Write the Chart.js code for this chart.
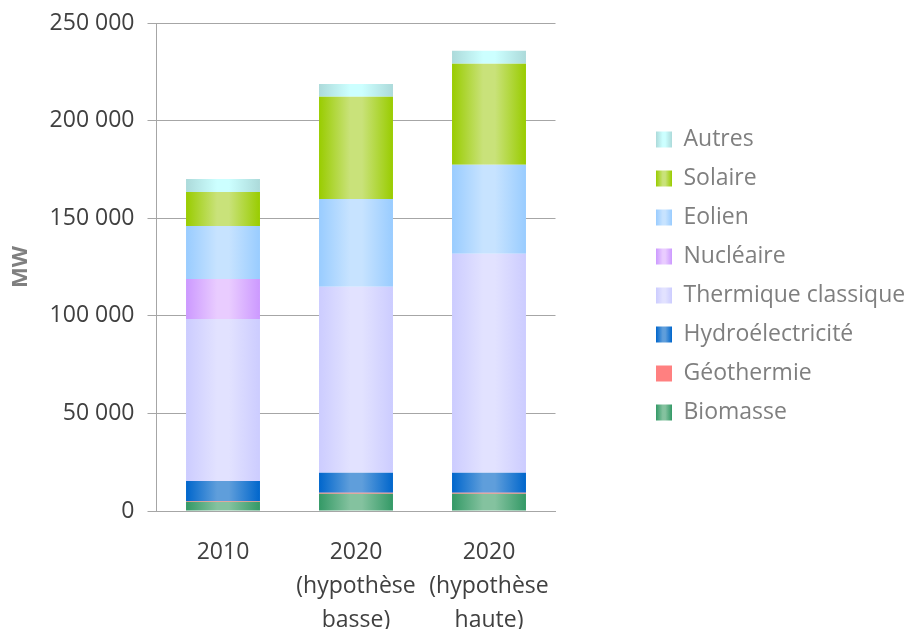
<!DOCTYPE html>
<html>
<head>
<meta charset="utf-8">
<script src="https://cdn.jsdelivr.net/npm/chart.js@4/dist/chart.umd.min.js"></script>
<style>
  body { margin: 0; background: #fff; }
</style>
</head>
<body>
<canvas id="mw-chart" width="909" height="629"></canvas>
<script>
// Puissance installée (MW) par filière
const categories = ['2010', ['2020', '(hypothèse', 'basse)'], ['2020', '(hypothèse', 'haute)']];

const biomasse   = [4700, 8900, 8900];
const geothermie = [400, 400, 400];
const hydro      = [10300, 10300, 10300];
const thermique  = [83000, 95300, 112200];
const nucleaire  = [20500, 0, 0];
const eolien     = [27100, 45000, 45600];
const solaire    = [17400, 52300, 51700];
const autres     = [6700, 6600, 6700];

const yTicks = [0, 50000, 100000, 150000, 200000, 250000];

const barShare = 0.556;
const legendPadding = 16;
const legendBox = 16;

// dégradé horizontal : bords foncés, centre clair
function fillGradient(ctx2d, x0, x1, dark, light) {
    const g = ctx2d.createLinearGradient(x0, 0, x1, 0);
    g.addColorStop(0, dark);
    g.addColorStop(0.42, light);
    g.addColorStop(0.58, light);
    g.addColorStop(1, dark);
    return g;
}

function barFill(dark, light) {
    return function(context) {
        const chart = context.chart;
        const xs = chart.scales.x;
        if (context.type !== 'data' || !xs || !Number.isFinite(xs.width)) return dark;
        const cx = xs.getPixelForValue(context.dataIndex);
        const half = xs.width / categories.length * barShare / 2;
        return fillGradient(chart.ctx, cx - half, cx + half, dark, light);
    };
}

function serie(label, data, dark, light) {
    return {
        label: label,
        data: data,
        backgroundColor: barFill(dark, light),
        dark: dark,
        light: light,
        borderWidth: 0
    };
}

function formatMW(v) {
    return String(v).replace(/\B(?=(\d{3})+(?!\d))/g, ' ');
}

const ctx = document.getElementById('mw-chart').getContext('2d');

new Chart(ctx, {
    type: 'bar',
    data: {
        labels: categories,
        datasets: [
            serie('Biomasse', biomasse, '#339966', '#84c29f'),
            serie('Géothermie', geothermie, '#ff8080', '#ff8080'),
            serie('Hydroélectricité', hydro, '#0066cc', '#5f9edb'),
            serie('Thermique classique', thermique, '#ccccff', '#e2e2ff'),
            serie('Nucléaire', nucleaire, '#cc99ff', '#e9ccff'),
            serie('Eolien', eolien, '#99ccff', '#c7e3ff'),
            serie('Solaire', solaire, '#99cc00', '#c9e27a'),
            serie('Autres', autres, '#acdada', '#ccffff')
        ]
    },
    options: {
        responsive: false,
        animation: false,
        layout: {
            padding: { left: 4, top: 23, right: 0, bottom: 0 }
        },
        datasets: {
            bar: { barPercentage: 1, categoryPercentage: barShare }
        },
        plugins: {
            tooltip: { enabled: false },
            legend: {
                position: 'right',
                reverse: true,
                fullSize: false,
                maxWidth: 269,
                title: { display: true, text: '', padding: 0, font: { size: 10, lineHeight: 1.8 } },
                labels: {
                    boxWidth: legendBox,
                    boxHeight: legendBox,
                    padding: legendPadding,
                    color: '#7f7f7f',
                    font: { family: 'Open Sans', size: 23 },
                    generateLabels: function(chart) {
                        const items = Chart.defaults.plugins.legend.labels.generateLabels(chart);
                        const lg = chart.legend;
                        items.forEach(function(item) {
                            const ds = chart.data.datasets[item.datasetIndex];
                            if (lg && Number.isFinite(lg.left)) {
                                const x0 = lg.left + legendPadding;
                                item.fillStyle = fillGradient(chart.ctx, x0, x0 + legendBox, ds.dark, ds.light);
                            } else {
                                item.fillStyle = ds.dark;
                            }
                            item.lineWidth = 0;
                        });
                        return items;
                    }
                }
            }
        },
        scales: {
            x: {
                stacked: true,
                grid: { display: false, drawTicks: false },
                border: { display: true, color: '#a6a6a6' },
                ticks: {
                    color: '#404040',
                    padding: 24,
                    font: { family: 'Open Sans', size: 23, lineHeight: 1.48 }
                },
                afterFit: function(scale) { scale.height = 118; }
            },
            y: {
                stacked: true,
                min: 0,
                max: 250000,
                afterBuildTicks: function(scale) {
                    scale.ticks = yTicks.map(v => ({ value: v }));
                },
                grid: { color: '#a6a6a6', tickLength: 9 },
                border: { display: true, color: '#a6a6a6' },
                ticks: {
                    color: '#404040',
                    padding: 13,
                    font: { family: 'Open Sans', size: 23 },
                    callback: v => formatMW(v)
                },
                title: {
                    display: true,
                    text: 'MW',
                    color: '#7f7f7f',
                    padding: { top: 4, bottom: 0 },
                    font: { family: 'Open Sans', size: 22, weight: 'bold' }
                },
                afterFit: function(scale) {
                    scale.width = 152.5;
                    scale.paddingTop = 0;
                    scale.paddingBottom = 0;
                }
            },
            // espace vide entre les barres et la légende
            gap: {
                axis: 'y',
                position: 'right',
                display: true,
                grid: { display: false, drawTicks: false },
                border: { display: false },
                ticks: { display: false },
                afterFit: function(scale) { scale.width = 84.5; }
            }
        }
    }
});
</script>
</body>
</html>
